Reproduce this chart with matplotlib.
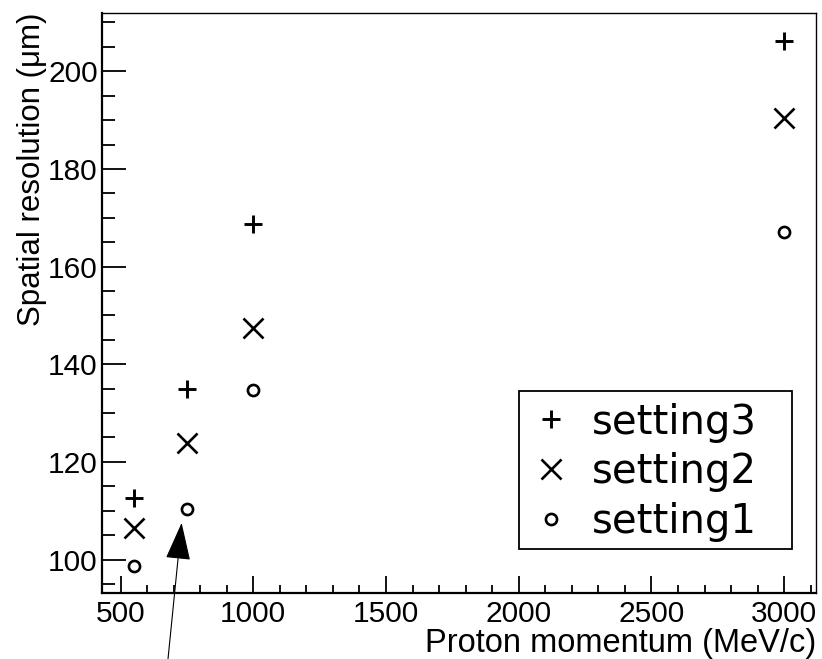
import matplotlib.pyplot as plt
from matplotlib.patches import Rectangle
from matplotlib.ticker import MultipleLocator

# momentum points (MeV/c) and resolution per setting (um)
momentum = [550, 750, 1000, 3000]
setting1 = [98.6, 110.3, 134.7, 167.1]
setting2 = [106.5, 123.9, 147.4, 190.4]
setting3 = [112.5, 135.0, 168.7, 206.3]

plt.rcParams['font.family'] = ['Liberation Sans', 'DejaVu Sans']

fig = plt.figure(figsize=(8.22, 6.59), dpi=100)
ax = fig.add_axes([102 / 822, 1 - 592.7 / 659, 714 / 822, 580 / 659])

ax.plot(momentum, setting3, ls='none', marker='+', ms=13, mew=2.1,
        color='black', label='setting3')
ax.plot(momentum, setting2, ls='none', marker='x', ms=14, mew=1.9,
        color='black', label='setting2')
ax.plot(momentum, setting1, ls='none', marker='o', ms=8, mew=1.9,
        mfc='none', color='black', label='setting1')

ax.set_xlim(430, 3120)
ax.set_ylim(93.2, 212)

ax.xaxis.set_major_locator(MultipleLocator(500))
ax.xaxis.set_minor_locator(MultipleLocator(100))
ax.yaxis.set_major_locator(MultipleLocator(20))
ax.yaxis.set_minor_locator(MultipleLocator(5))
ax.tick_params(axis='both', which='both', direction='in', labelsize=21.5,
               width=1.3, color='black')
ax.tick_params(axis='x', which='major', length=12, pad=5)
ax.tick_params(axis='x', which='minor', length=6)
ax.tick_params(axis='y', which='major', length=17, pad=3)
ax.tick_params(axis='y', which='minor', length=9)

for side in ['left', 'bottom']:
    ax.spines[side].set_linewidth(1.6)
for side in ['top', 'right']:
    ax.spines[side].set_linewidth(1.0)

ax.set_xlabel('Proton momentum (MeV/c)', fontsize=23.5, loc='right', labelpad=0)
ax.set_ylabel('Spatial resolution (\u03bcm)', fontsize=22.5, loc='top', labelpad=1)

# legend box drawn separately so its size is independent of the text
box_x0, box_y0, box_x1, box_y1 = 0.584, 0.0753, 0.966, 0.348
ax.add_patch(Rectangle((box_x0, box_y0), box_x1 - box_x0, box_y1 - box_y0,
                       transform=ax.transAxes, fill=True, facecolor='white',
                       edgecolor='black', lw=1.3, zorder=4))
leg = ax.legend(loc='center left', bbox_to_anchor=(box_x0, (box_y0 + box_y1) / 2 - 0.004),
                borderaxespad=0, frameon=False,
                prop={'family': 'DejaVu Sans', 'size': 29},
                handlelength=0.8, handletextpad=0.6, labelspacing=0.24,
                borderpad=0.4, markerscale=1.0)
leg.set_zorder(5)

# arrow pointing at the 750 MeV/c point
ax.annotate('', xy=(730, 107.5), xycoords='data',
            xytext=(168 / 822, 0.0), textcoords='figure fraction',
            arrowprops=dict(arrowstyle='-|>,head_length=2.4,head_width=0.8',
                            color='black', lw=0.8, shrinkA=0, shrinkB=0),
            annotation_clip=False)

fig.savefig('out.png', dpi=100)
